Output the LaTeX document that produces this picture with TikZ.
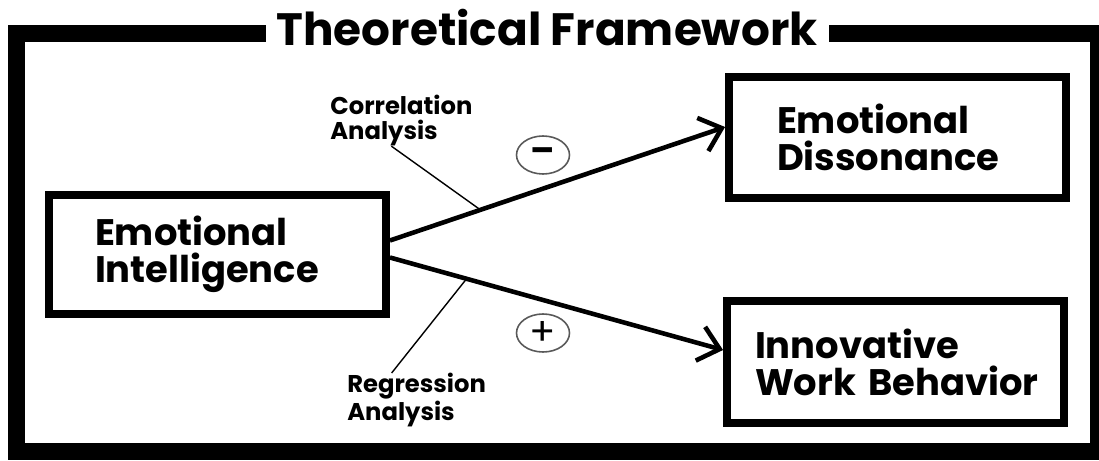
\documentclass[tikz,border=0pt]{standalone}
\usepackage{fontspec}
\setmainfont{Poppins}
\usetikzlibrary{arrows.meta,positioning,shapes.geometric,calc}
\tikzset{
  vbox/.style={rectangle, draw, line width=4.5pt, align=left, minimum width=6.74cm,
               minimum height=2.42cm, inner ysep=2pt,
               font=\fontsize{21}{21}\selectfont\bfseries},
  varr/.style={-{Straight Barb[length=4mm,width=7mm]}, line width=2.6pt},
  lead/.style={line width=0.8pt},
  note/.style={font=\fontsize{13.8}{14}\selectfont\bfseries, align=left, inner sep=0pt},
  sign/.style={ellipse, draw=black!65, line width=0.9pt, minimum width=1.06cm,
               minimum height=0.76cm, inner sep=0pt},
}

\begin{document}
\begin{tikzpicture}
    \useasboundingbox (0,0) rectangle (21.98,-9.22);
    % outer frame and its title
    \draw[line width=9.6pt] (0.33,-0.67) rectangle (21.97,-9.03);
    \node[fill=white,minimum width=11.26cm,inner xsep=0pt,inner ysep=0pt,font=\fontsize{25.8}{26}\selectfont\bfseries](title) at (10.94,-0.56){Theoretical Framework};
    % variables
    \node[vbox,text width=4.9cm,inner xsep=0.92cm,minimum height=2.38cm](ei) at (4.35,-5.09){Emotional\\Intelligence};
    \node[vbox,text width=4.82cm,inner xsep=0.96cm](ed) at (17.95,-2.75){Emotional\\Dissonance};
    \node[vbox,text width=5.62cm,inner xsep=0.56cm,minimum height=2.44cm](iwb) at (17.91,-7.24){Innovative\\\mbox{Work Behavior}};
    % paths
    \draw[varr]([yshift=0.28cm]ei.east) -- coordinate[pos=0.27](c1) ([yshift=0.21cm]ed.west);
    \draw[varr]([yshift=-0.06cm]ei.east) -- coordinate[pos=0.23](c2) ([yshift=0.24cm]iwb.west);
    \node[sign,font=\fontsize{20}{20}\selectfont\bfseries](neg) at (10.86,-3.1){--};
    \node[sign,font=\fontsize{22}{22}\selectfont](pos) at (10.86,-6.66){+};
    % method labels
    \node[note,anchor=north west](corr) at (6.6,-1.9){Correlation\\Analysis};
    \node[note,anchor=north west](reg) at (6.94,-7.46){Regression\\Analysis};
    \draw[lead]([xshift=-0.2cm]corr.south) -- (c1);
    \draw[lead]([xshift=-0.5cm]reg.north) -- (c2);
\end{tikzpicture}
\end{document}
